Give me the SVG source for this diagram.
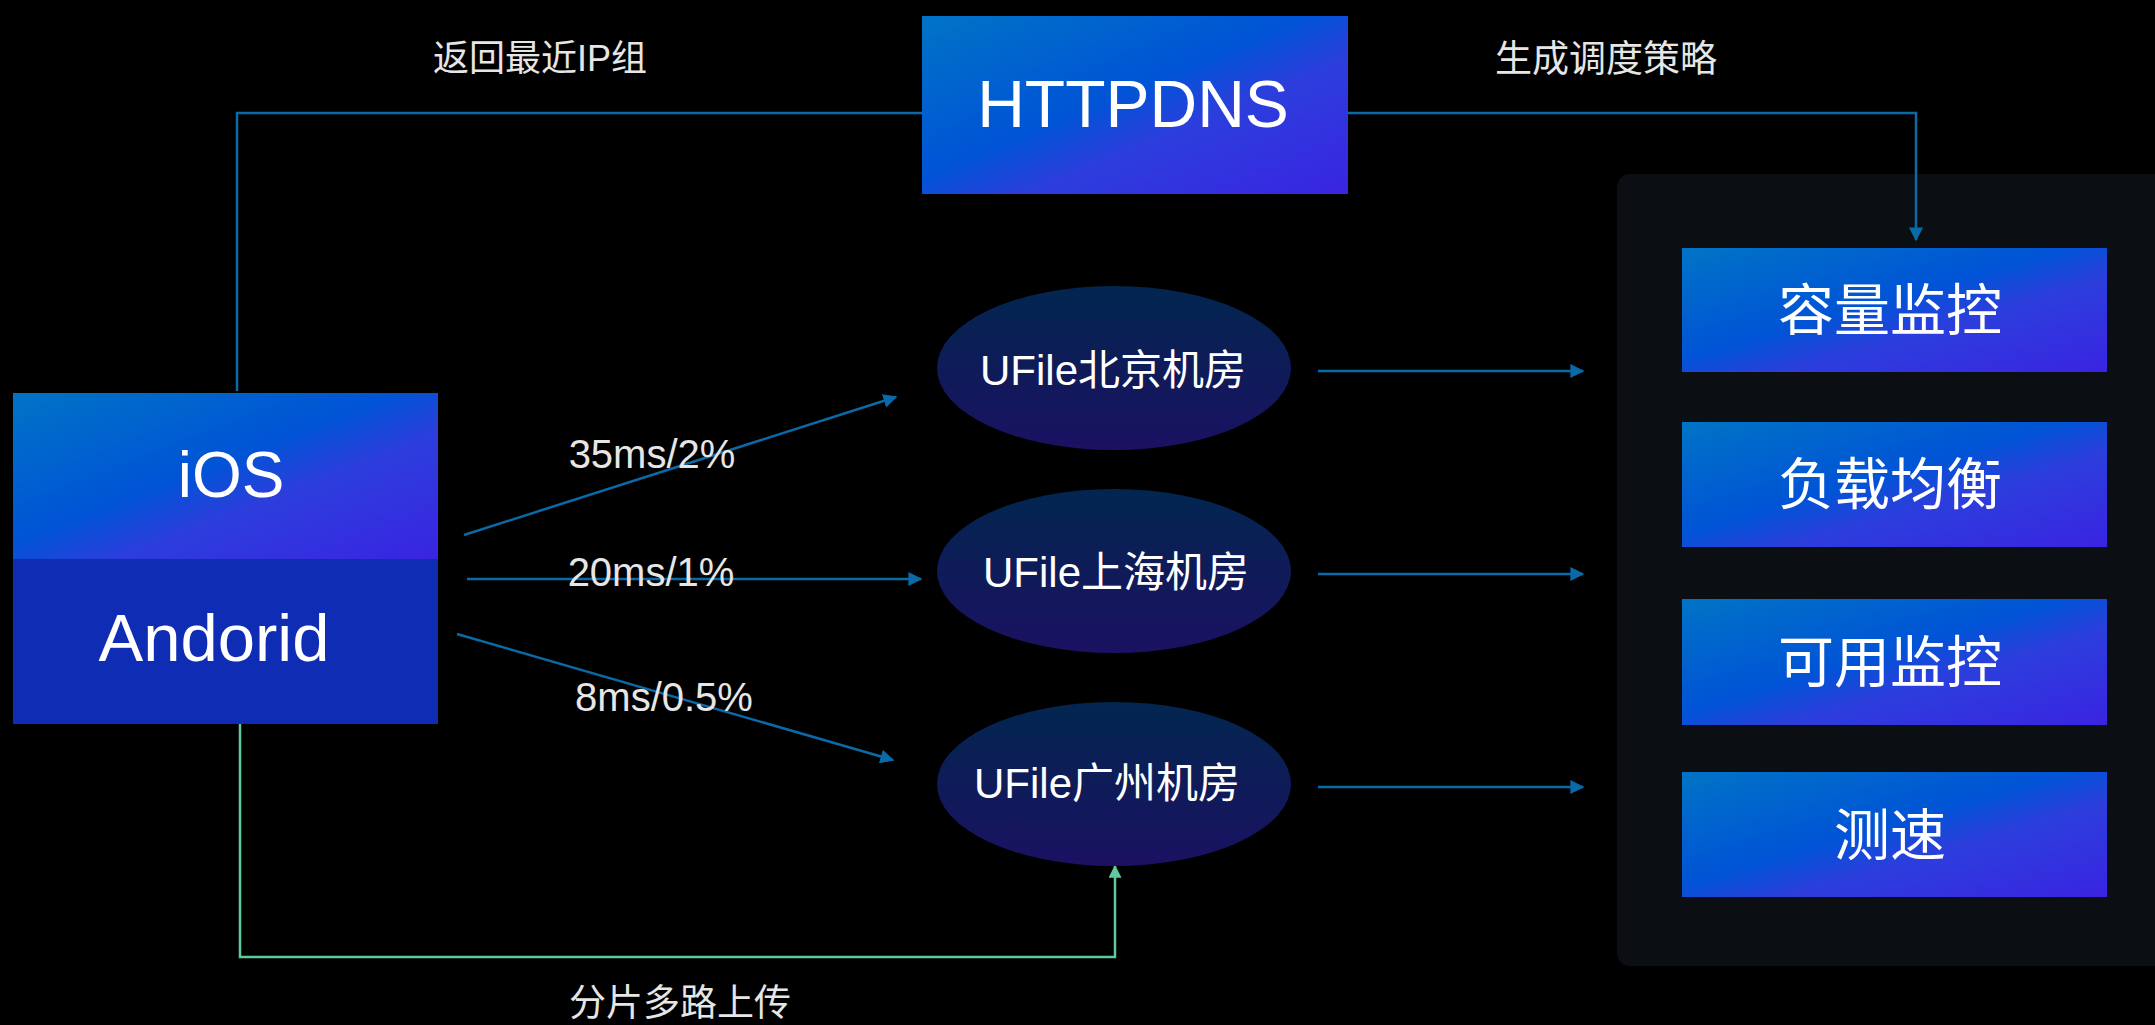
<svg xmlns="http://www.w3.org/2000/svg" width="2155" height="1025" viewBox="0 0 2155 1025">
<defs>
<linearGradient id="gBox" x1="0" y1="0" x2="1" y2="1">
<stop offset="0" stop-color="#0074c6"/>
<stop offset="0.45" stop-color="#0054d6"/>
<stop offset="0.62" stop-color="#2c3edc"/>
<stop offset="1" stop-color="#3a24e2"/>
</linearGradient>
<linearGradient id="gEll" x1="0" y1="0" x2="0" y2="1">
<stop offset="0" stop-color="#02264f"/>
<stop offset="1" stop-color="#1b1162"/>
</linearGradient>
<marker id="aB" viewBox="0 0 10 10" refX="9" refY="5" markerWidth="14" markerHeight="14" markerUnits="userSpaceOnUse" orient="auto">
<path d="M0,0 L10,5 L0,10 z" fill="#0a6aa8"/>
</marker>
<marker id="aG" viewBox="0 0 10 10" refX="9" refY="5" markerWidth="13" markerHeight="13" markerUnits="userSpaceOnUse" orient="auto">
<path d="M0,0 L10,5 L0,10 z" fill="#5fcb9c"/>
</marker>
</defs>
<style>
.t{fill:#ffffff;font-family:"Liberation Sans","Noto Sans CJK SC",sans-serif;text-anchor:middle}
.lbl{fill:#e6e6e6;font-family:"Liberation Sans","Noto Sans CJK SC",sans-serif;text-anchor:middle}
.cb{fill:none;stroke:#0a6aa8;stroke-width:2.5}
.cg{fill:none;stroke:#5fcb9c;stroke-width:2.5}
</style>
<rect width="2155" height="1025" fill="#000000"/>
<g id="panel"><rect x="1617" y="174" width="560" height="792" rx="13" fill="#0b0e13"/></g>
<g id="connectors">
<polyline class="cb" points="922,113 237,113 237,391"/>
<polyline class="cb" points="1348,113 1916,113 1916,240" marker-end="url(#aB)"/>
<line class="cb" x1="464" y1="535" x2="896" y2="397" marker-end="url(#aB)"/>
<line class="cb" x1="467" y1="579" x2="921" y2="579" marker-end="url(#aB)"/>
<line class="cb" x1="457" y1="634" x2="893" y2="760" marker-end="url(#aB)"/>
<line class="cb" x1="1318" y1="371" x2="1583" y2="371" marker-end="url(#aB)"/>
<line class="cb" x1="1318" y1="574" x2="1583" y2="574" marker-end="url(#aB)"/>
<line class="cb" x1="1318" y1="787" x2="1583" y2="787" marker-end="url(#aB)"/>
<polyline class="cg" points="240,724 240,957 1115,957 1115,866" marker-end="url(#aG)"/>
<text class="lbl" x="540" y="71" font-size="36">返回最近IP组</text>
<text class="lbl" x="1606" y="72" font-size="37">生成调度策略</text>
<text class="lbl" x="652" y="468" font-size="40">35ms/2%</text>
<text class="lbl" x="651" y="586" font-size="40">20ms/1%</text>
<text class="lbl" x="664" y="711" font-size="40">8ms/0.5%</text>
<text class="lbl" x="680" y="1016" font-size="37">分片多路上传</text>
</g>
<g id="httpdns">
<rect x="922" y="16" width="426" height="178" fill="url(#gBox)"/>
<text class="t" x="1133" y="127" font-size="66">HTTPDNS</text>
</g>
<g id="client">
<rect x="13" y="393" width="425" height="166" fill="url(#gBox)"/>
<rect x="13" y="559" width="425" height="165" fill="#0f2db4"/>
<text class="t" x="231" y="497" font-size="64">iOS</text>
<text class="t" x="214" y="661" font-size="67">Andorid</text>
</g>
<g id="ufile-bj">
<ellipse cx="1114" cy="368" rx="177" ry="82" fill="url(#gEll)"/>
<text class="t" x="1113" y="385" font-size="42">UFile北京机房</text>
</g>
<g id="ufile-sh">
<ellipse cx="1114" cy="571" rx="177" ry="82" fill="url(#gEll)"/>
<text class="t" x="1116" y="587" font-size="42">UFile上海机房</text>
</g>
<g id="ufile-gz">
<ellipse cx="1114" cy="784" rx="177" ry="82" fill="url(#gEll)"/>
<text class="t" x="1107" y="798" font-size="42">UFile广州机房</text>
</g>
<g id="capacity">
<rect x="1682" y="248" width="425" height="124" fill="url(#gBox)"/>
<text class="t" x="1890" y="330" font-size="56">容量监控</text>
</g>
<g id="loadbalance">
<rect x="1682" y="422" width="425" height="125" fill="url(#gBox)"/>
<text class="t" x="1890" y="504" font-size="56">负载均衡</text>
</g>
<g id="availability">
<rect x="1682" y="599" width="425" height="126" fill="url(#gBox)"/>
<text class="t" x="1890" y="682" font-size="56">可用监控</text>
</g>
<g id="speedtest">
<rect x="1682" y="772" width="425" height="125" fill="url(#gBox)"/>
<text class="t" x="1890" y="855" font-size="56">测速</text>
</g>
</svg>
